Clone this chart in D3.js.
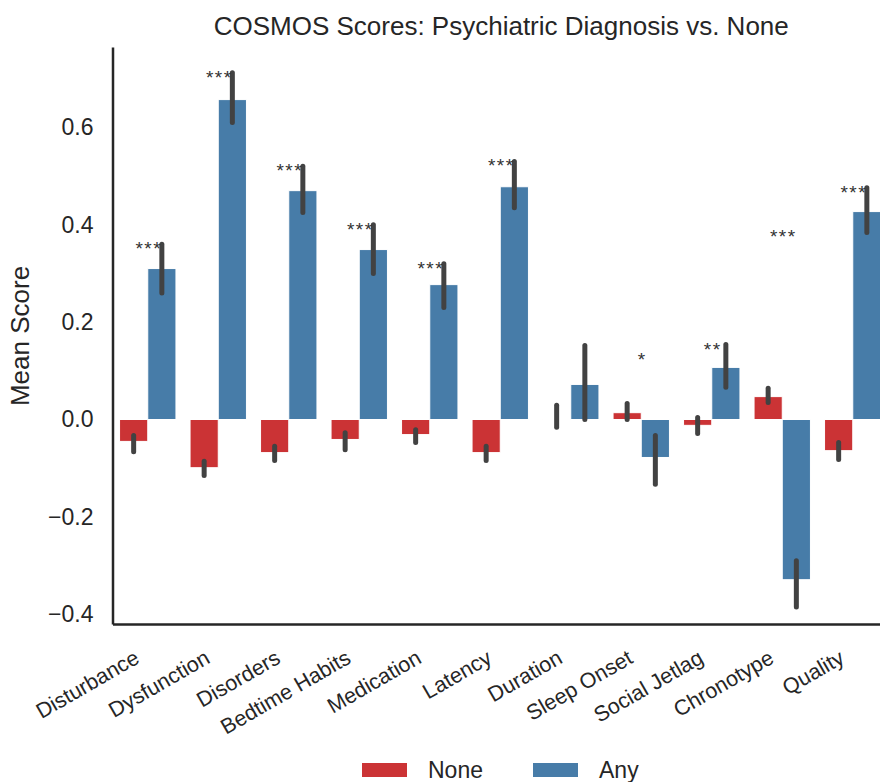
<!DOCTYPE html>
<html>
<head>
<meta charset="utf-8">
<script src="https://cdn.jsdelivr.net/npm/d3@7"></script>
<style>
  body { margin: 0; background: #fff; }
  text { font-family: "Liberation Sans", Arial, sans-serif; fill: #262626; }
</style>
</head>
<body>
<div id="chart"></div>
<script>
// categories and groups
const categories = ["Disturbance", "Dysfunction", "Disorders", "Bedtime Habits", "Medication",
  "Latency", "Duration", "Sleep Onset", "Social Jetlag", "Chronotype", "Quality"];
const groups = ["None", "Any"];

// mean scores
const noneMean = [-0.045, -0.099, -0.068, -0.041, -0.031, -0.068, 0.001, 0.014, -0.012, 0.047, -0.064];
const anyMean  = [0.310, 0.657, 0.470, 0.349, 0.277, 0.478, 0.072, -0.078, 0.107, -0.329, 0.427];

// confidence intervals (low, high)
const noneLow  = [-0.066, -0.115, -0.084, -0.062, -0.047, -0.084, -0.016, 0.000, -0.029, 0.035, -0.082];
const noneHigh = [-0.033, -0.086, -0.055, -0.027, -0.021, -0.055, 0.029, 0.033, 0.004, 0.064, -0.047];
const anyLow   = [0.260, 0.610, 0.425, 0.300, 0.230, 0.435, 0.000, -0.133, 0.066, -0.385, 0.384];
const anyHigh  = [0.360, 0.712, 0.520, 0.400, 0.320, 0.530, 0.152, -0.033, 0.154, -0.290, 0.476];

// significance markers
const stars = ["***", "***", "***", "***", "***", "***", "", "*", "**", "***", "***"];

const yTicks = [-0.4, -0.2, 0.0, 0.2, 0.4, 0.6];
const colors = { None: "#cb3335", Any: "#477ca8" };

const width = 880, height = 782;
const margin = { top: 47, left: 112.5, bottom: 158 };
const plotRight = 888;

const svg = d3.select("#chart").append("svg")
  .attr("width", width)
  .attr("height", height);

const x = d3.scaleBand().domain(categories).range([margin.left, plotRight]);
const xSub = d3.scaleBand().domain(groups)
  .range([x.bandwidth() * 0.1, x.bandwidth() * 0.9]);
const y = d3.scaleLinear().domain([-0.42, 0.765]).range([height - margin.bottom, margin.top]);

// build rows from the arrays
const rows = [];
categories.forEach(function (c, i) {
  rows.push({ cat: c, group: "None", mean: noneMean[i], lo: noneLow[i], hi: noneHigh[i] });
  rows.push({ cat: c, group: "Any", mean: anyMean[i], lo: anyLow[i], hi: anyHigh[i] });
});

// bars
svg.append("g").selectAll("rect")
  .data(rows)
  .enter()
  .append("rect")
  .attr("x", d => x(d.cat) + xSub(d.group))
  .attr("width", xSub.bandwidth())
  .attr("y", d => y(Math.max(0, d.mean)))
  .attr("height", d => Math.abs(y(d.mean) - y(0)))
  .attr("fill", d => colors[d.group])
  .attr("stroke", "#fff")
  .attr("stroke-width", 1);

// error bars
svg.append("g").selectAll("line")
  .data(rows)
  .enter()
  .append("line")
  .attr("x1", d => x(d.cat) + xSub(d.group) + xSub.bandwidth() / 2)
  .attr("x2", d => x(d.cat) + xSub(d.group) + xSub.bandwidth() / 2)
  .attr("y1", d => y(d.lo))
  .attr("y2", d => y(d.hi))
  .attr("stroke", "#424242")
  .attr("stroke-width", 5)
  .attr("stroke-linecap", "round");

// stars above the largest CI extent
svg.append("g").selectAll("text")
  .data(categories)
  .enter()
  .append("text")
  .attr("x", d => x(d) + x.bandwidth() / 2 + 1)
  .attr("y", function (d, i) {
    const top = d3.max([noneLow[i], noneHigh[i], anyLow[i], anyHigh[i]], v => Math.abs(v));
    return y(top) + 11;
  })
  .attr("text-anchor", "middle")
  .style("font-size", "19px")
  .style("letter-spacing", "1.5px")
  .style("fill", "#333")
  .text((d, i) => stars[i]);

// y axis
const yAxis = d3.axisLeft(y)
  .tickValues(yTicks)
  .tickFormat(d3.format(".1f"))
  .tickSize(0)
  .tickSizeOuter(0)
  .tickPadding(19);

const gy = svg.append("g")
  .attr("transform", "translate(" + margin.left + ",0)")
  .call(yAxis);
gy.selectAll("text").style("font-size", "23px");
gy.select(".domain").attr("stroke", "#262626").attr("stroke-width", 2.5);

// x axis
const xAxis = d3.axisBottom(x).tickSize(0).tickSizeOuter(0);
const gx = svg.append("g")
  .attr("transform", "translate(0," + (height - margin.bottom) + ")")
  .call(xAxis);
gx.select(".domain").attr("stroke", "#262626").attr("stroke-width", 2.5);
gx.selectAll("text")
  .attr("x", 0)
  .attr("y", 0)
  .attr("dy", 0)
  .attr("text-anchor", "end")
  .attr("transform", "translate(-7,38) rotate(-30)")
  .style("font-size", "21.5px");

// title
svg.append("text")
  .attr("x", (margin.left + plotRight) / 2 + 1)
  .attr("y", 35)
  .attr("text-anchor", "middle")
  .style("font-size", "26px")
  .text("COSMOS Scores: Psychiatric Diagnosis vs. None");

// y label
svg.append("text")
  .attr("transform", "translate(29,336) rotate(-90)")
  .attr("text-anchor", "middle")
  .style("font-size", "26px")
  .text("Mean Score");

// legend
const legendX = [362, 533];
const legend = svg.append("g").selectAll("g")
  .data(groups)
  .enter()
  .append("g")
  .attr("transform", (d, i) => "translate(" + legendX[i] + ",763)");
legend.append("rect")
  .attr("width", 45)
  .attr("height", 14)
  .attr("fill", d => colors[d]);
legend.append("text")
  .attr("x", 66)
  .attr("y", 15)
  .style("font-size", "23px")
  .text(d => d);
</script>
</body>
</html>
